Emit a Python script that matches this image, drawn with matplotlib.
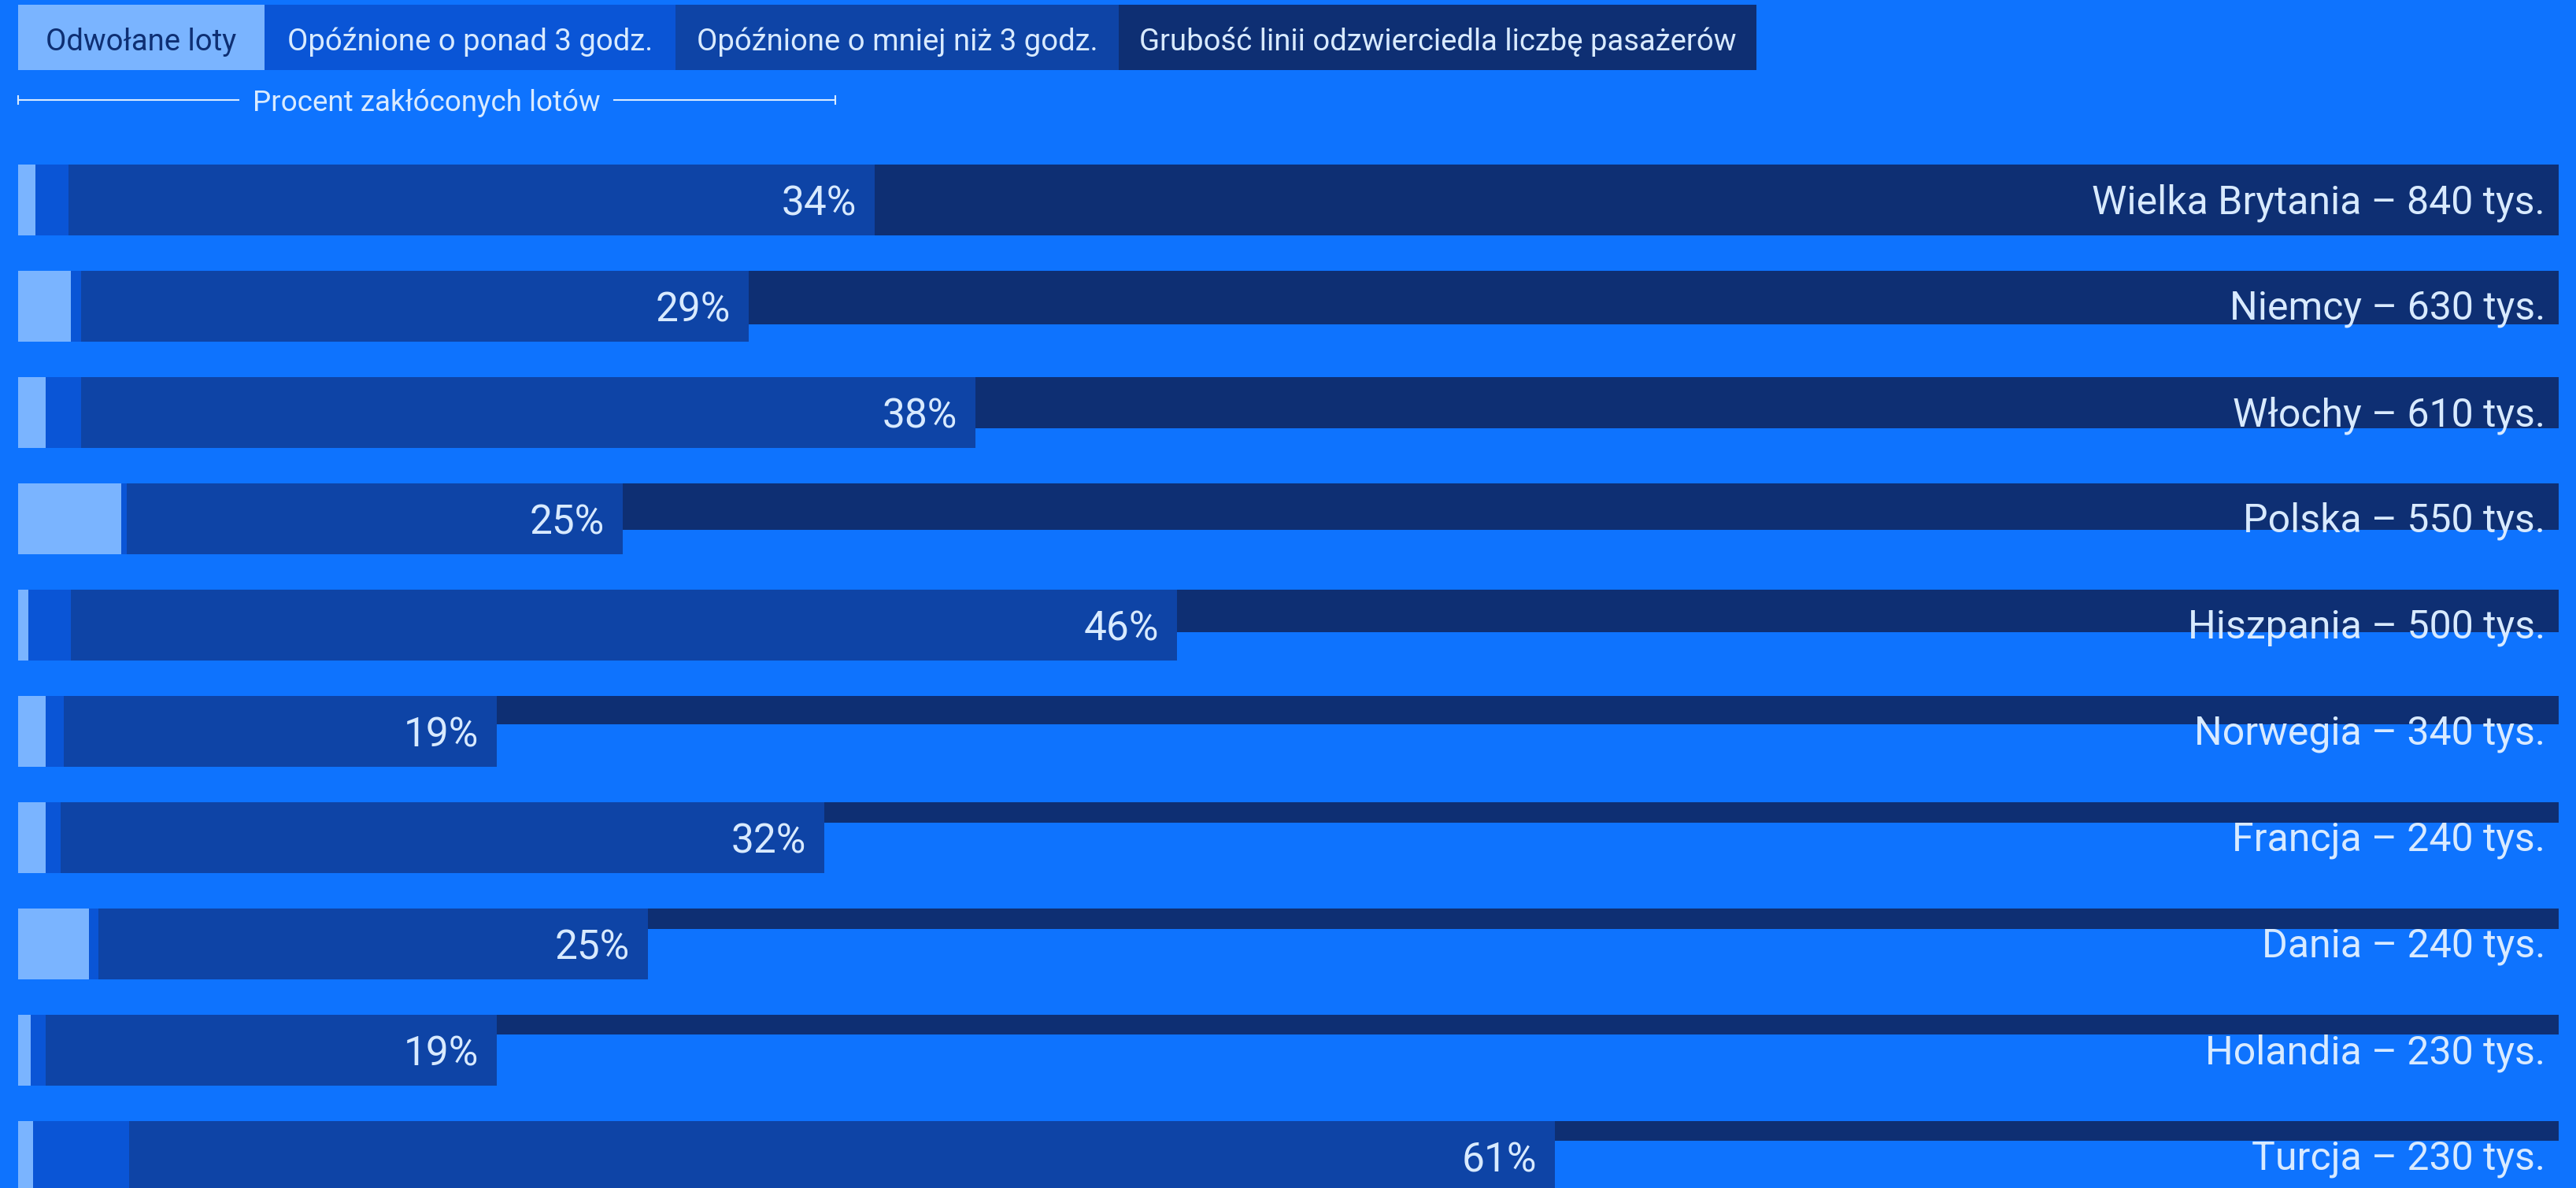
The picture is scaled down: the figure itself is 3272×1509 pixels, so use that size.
import numpy as np
import matplotlib.pyplot as plt
from matplotlib.patches import Rectangle
from matplotlib.lines import Line2D

plt.rcParams['font.family'] = ['Roboto', 'DejaVu Sans']

# data
countries = ["Wielka Brytania", "Niemcy", "Włochy", "Polska", "Hiszpania",
             "Norwegia", "Francja", "Dania", "Holandia", "Turcja"]
passengers = [840, 630, 610, 550, 500, 340, 240, 240, 230, 230]  # tys.
cancelled = [0.7, 2.1, 1.1, 4.1, 0.4, 1.1, 1.1, 2.8, 0.5, 0.6]
delay_over3 = [1.3, 0.4, 1.4, 0.2, 1.7, 0.7, 0.6, 0.4, 0.6, 3.8]
delay_under3 = [32.0, 26.5, 35.5, 19.7, 43.9, 17.2, 30.3, 21.8, 17.9, 56.6]
pct_labels = ["34%", "29%", "38%", "25%", "46%", "19%", "32%", "25%", "19%", "61%"]
legend_labels = ["Odwołane loty", "Opóźnione o ponad 3 godz.",
                 "Opóźnione o mniej niż 3 godz.",
                 "Grubość linii odzwierciedla liczbę pasażerów"]

BG = "#0E73FE"
C_CANC = "#7AB4FF"
C_OVER = "#0A55D6"
C_UNDER = "#0E44A6"
C_PASS = "#0E2F73"
TXT = "#D8EAFF"

W, H = 3272, 1509
fig = plt.figure(figsize=(W / 100, H / 100), dpi=100, facecolor=BG)


def fx(x):
    return x / W


def fy(y):
    return 1 - y / H


# main bar area
n = len(countries)
row_px = 135
ax = fig.add_axes([fx(23), fy(186.5 + n * row_px), 3227 / W, n * row_px / H])
ax.set_facecolor(BG)
ax.set_xlim(0, 3227 / 32)
ax.set_ylim(n - 0.5, -0.5)
ax.axis('off')

bar_h = 90 / row_px
y = np.arange(n)
top = y - bar_h / 2
pass_h = bar_h * np.array(passengers) / max(passengers)

ax.barh(top, ax.get_xlim()[1], height=pass_h, align='edge', color=C_PASS, linewidth=0)
c = np.array(cancelled)
o = np.array(delay_over3)
u = np.array(delay_under3)
ax.barh(y, c, height=bar_h, color=C_CANC, linewidth=0)
ax.barh(y, o, left=c, height=bar_h, color=C_OVER, linewidth=0)
ax.barh(y, u, left=c + o, height=bar_h, color=C_UNDER, linewidth=0)

totals = c + o + u
for i in range(n):
    ax.annotate(pct_labels[i], (totals[i], y[i]), xytext=(-23, 0),
                textcoords='offset pixels', ha='right', va='center_baseline',
                fontsize=37, color=TXT)
    ax.annotate(f"{countries[i]} – {passengers[i]} tys.", (1, y[i]),
                xycoords=('axes fraction', 'data'), xytext=(-17, 2),
                textcoords='offset pixels', ha='right', va='center_baseline',
                fontsize=36, color=TXT)

# legend strip
edges = [23, 336, 858, 1421, 2231]
box_cols = [C_CANC, C_OVER, C_UNDER, C_PASS]
for i, lab in enumerate(legend_labels):
    x0, x1 = edges[i], edges[i + 1]
    fig.add_artist(Rectangle((fx(x0), fy(89)), (x1 - x0) / W, 83 / H,
                             transform=fig.transFigure, color=box_cols[i], lw=0))
    fig.text(fx((x0 + x1) / 2), fy(49), lab, ha='center', va='center_baseline',
             fontsize=27.5, color=C_PASS if i == 0 else TXT)

# scale caption
ly = fy(127)
t = fig.text(fx(542), ly, "Procent zakłóconych lotów", ha='center',
             va='center_baseline', fontsize=26.5, color=TXT)
fig.add_artist(Line2D([fx(23), fx(303)], [ly, ly], transform=fig.transFigure,
                      color=TXT, lw=1.5))
fig.add_artist(Line2D([fx(780), fx(1061)], [ly, ly], transform=fig.transFigure,
                      color=TXT, lw=1.5))
for xe in [23, 1061]:
    fig.add_artist(Line2D([fx(xe), fx(xe)], [fy(122), fy(132)],
                          transform=fig.transFigure, color=TXT, lw=1.5))

fig.savefig("out.png", dpi=100, facecolor=BG)
